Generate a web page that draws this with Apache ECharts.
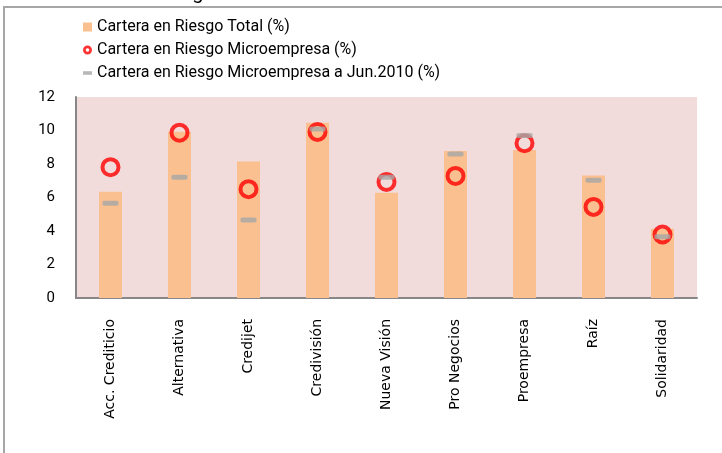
<!DOCTYPE html>
<html>
<head>
<meta charset="utf-8">
<script src="https://cdn.jsdelivr.net/npm/echarts@6/dist/echarts.min.js"></script>
<style>
  html, body { margin: 0; padding: 0; background: #fff; }
  #chart { width: 722px; height: 453px; }
</style>
</head>
<body>
<div id="chart"></div>
<script>
const categories = ['Acc. Crediticio', 'Alternativa', 'Credijet', 'Credivisión', 'Nueva Visión',
    'Pro Negocios', 'Proempresa', 'Raíz', 'Solidaridad'];
const riesgoTotal = [6.34, 9.93, 8.15, 10.47, 6.28, 8.78, 8.84, 7.31, 4.13];
const riesgoMicro = [7.81, 9.87, 6.50, 9.91, 6.93, 7.29, 9.24, 5.44, 3.79];
const riesgoMicroJun2010 = [5.66, 7.21, 4.65, 10.09, 7.21, 8.60, 9.70, 7.03, 3.66];
const yTicks = { min: 0, max: 12, interval: 2 };

const names = [
    'Cartera en Riesgo Total (%)',
    'Cartera en Riesgo Microempresa (%)',
    'Cartera en Riesgo Microempresa a Jun.2010 (%)',
];
const font = 'Roboto';

let myChart = echarts.init(document.getElementById('chart'));
myChart.setOption({
    animation: false,
    graphic: [
        {
            type: 'rect',
            shape: { x: 4, y: 7, width: 760, height: 500 },
            style: { fill: 'none', stroke: '#A6A6A6', lineWidth: 2 },
            silent: true,
        },
        {
            type: 'text',
            left: 57,
            top: -16,
            style: { text: 'Cartera en Riesgo', font: '20px ' + font, fill: '#000' },
            silent: true,
        },
    ],
    legend: {
        orient: 'vertical',
        left: 78,
        top: 13,
        itemWidth: 9,
        itemHeight: 9,
        itemGap: 5,
        textStyle: { fontFamily: font, fontSize: 16, color: '#000', lineHeight: 18 },
        data: [
            { name: names[0], icon: 'rect' },
            {
                name: names[1],
                icon: 'path://M0,5a5,5 0 1,0 10,0a5,5 0 1,0 -10,0z M3,5a2,2 0 1,1 4,0a2,2 0 1,1 -4,0z',
                itemStyle: { color: '#FF0000', borderWidth: 0 },
            },
            {
                name: names[2],
                icon: 'path://M0,0h10v4h-10z',
                itemStyle: { color: '#A6A6A6', borderWidth: 0 },
            },
        ],
    },
    grid: {
        left: 76,
        right: 25,
        top: 97,
        bottom: 155,
        show: true,
        backgroundColor: '#F2DCDB',
        borderWidth: 0,
    },
    xAxis: {
        type: 'category',
        data: categories,
        axisLine: { show: true, lineStyle: { color: '#878787', width: 2 } },
        axisTick: { show: false },
        axisLabel: {
            rotate: 90,
            interval: 0,
            margin: 21,
            fontFamily: 'DejaVu Sans',
            fontSize: 14,
            color: '#000',
        },
    },
    yAxis: {
        type: 'value',
        min: yTicks.min,
        max: yTicks.max,
        interval: yTicks.interval,
        splitLine: { show: false },
        axisTick: { show: false },
        axisLine: { show: true, lineStyle: { color: '#878787', width: 2 } },
        axisLabel: { margin: 21, fontFamily: font, fontSize: 15, color: '#000' },
    },
    series: [
        {
            name: names[0],
            type: 'bar',
            data: riesgoTotal,
            barWidth: 23,
            itemStyle: { color: '#FAC090' },
        },
        {
            name: names[1],
            type: 'scatter',
            data: riesgoMicro,
            symbol: 'circle',
            symbolSize: 16,
            itemStyle: { color: 'rgba(0,0,0,0)', borderColor: '#FF0000', borderWidth: 4 },
        },
        {
            name: names[2],
            type: 'scatter',
            data: riesgoMicroJun2010,
            symbol: 'roundRect',
            symbolSize: [16, 5],
            itemStyle: { color: '#A6A6A6' },
        },
    ],
});
</script>
</body>
</html>
